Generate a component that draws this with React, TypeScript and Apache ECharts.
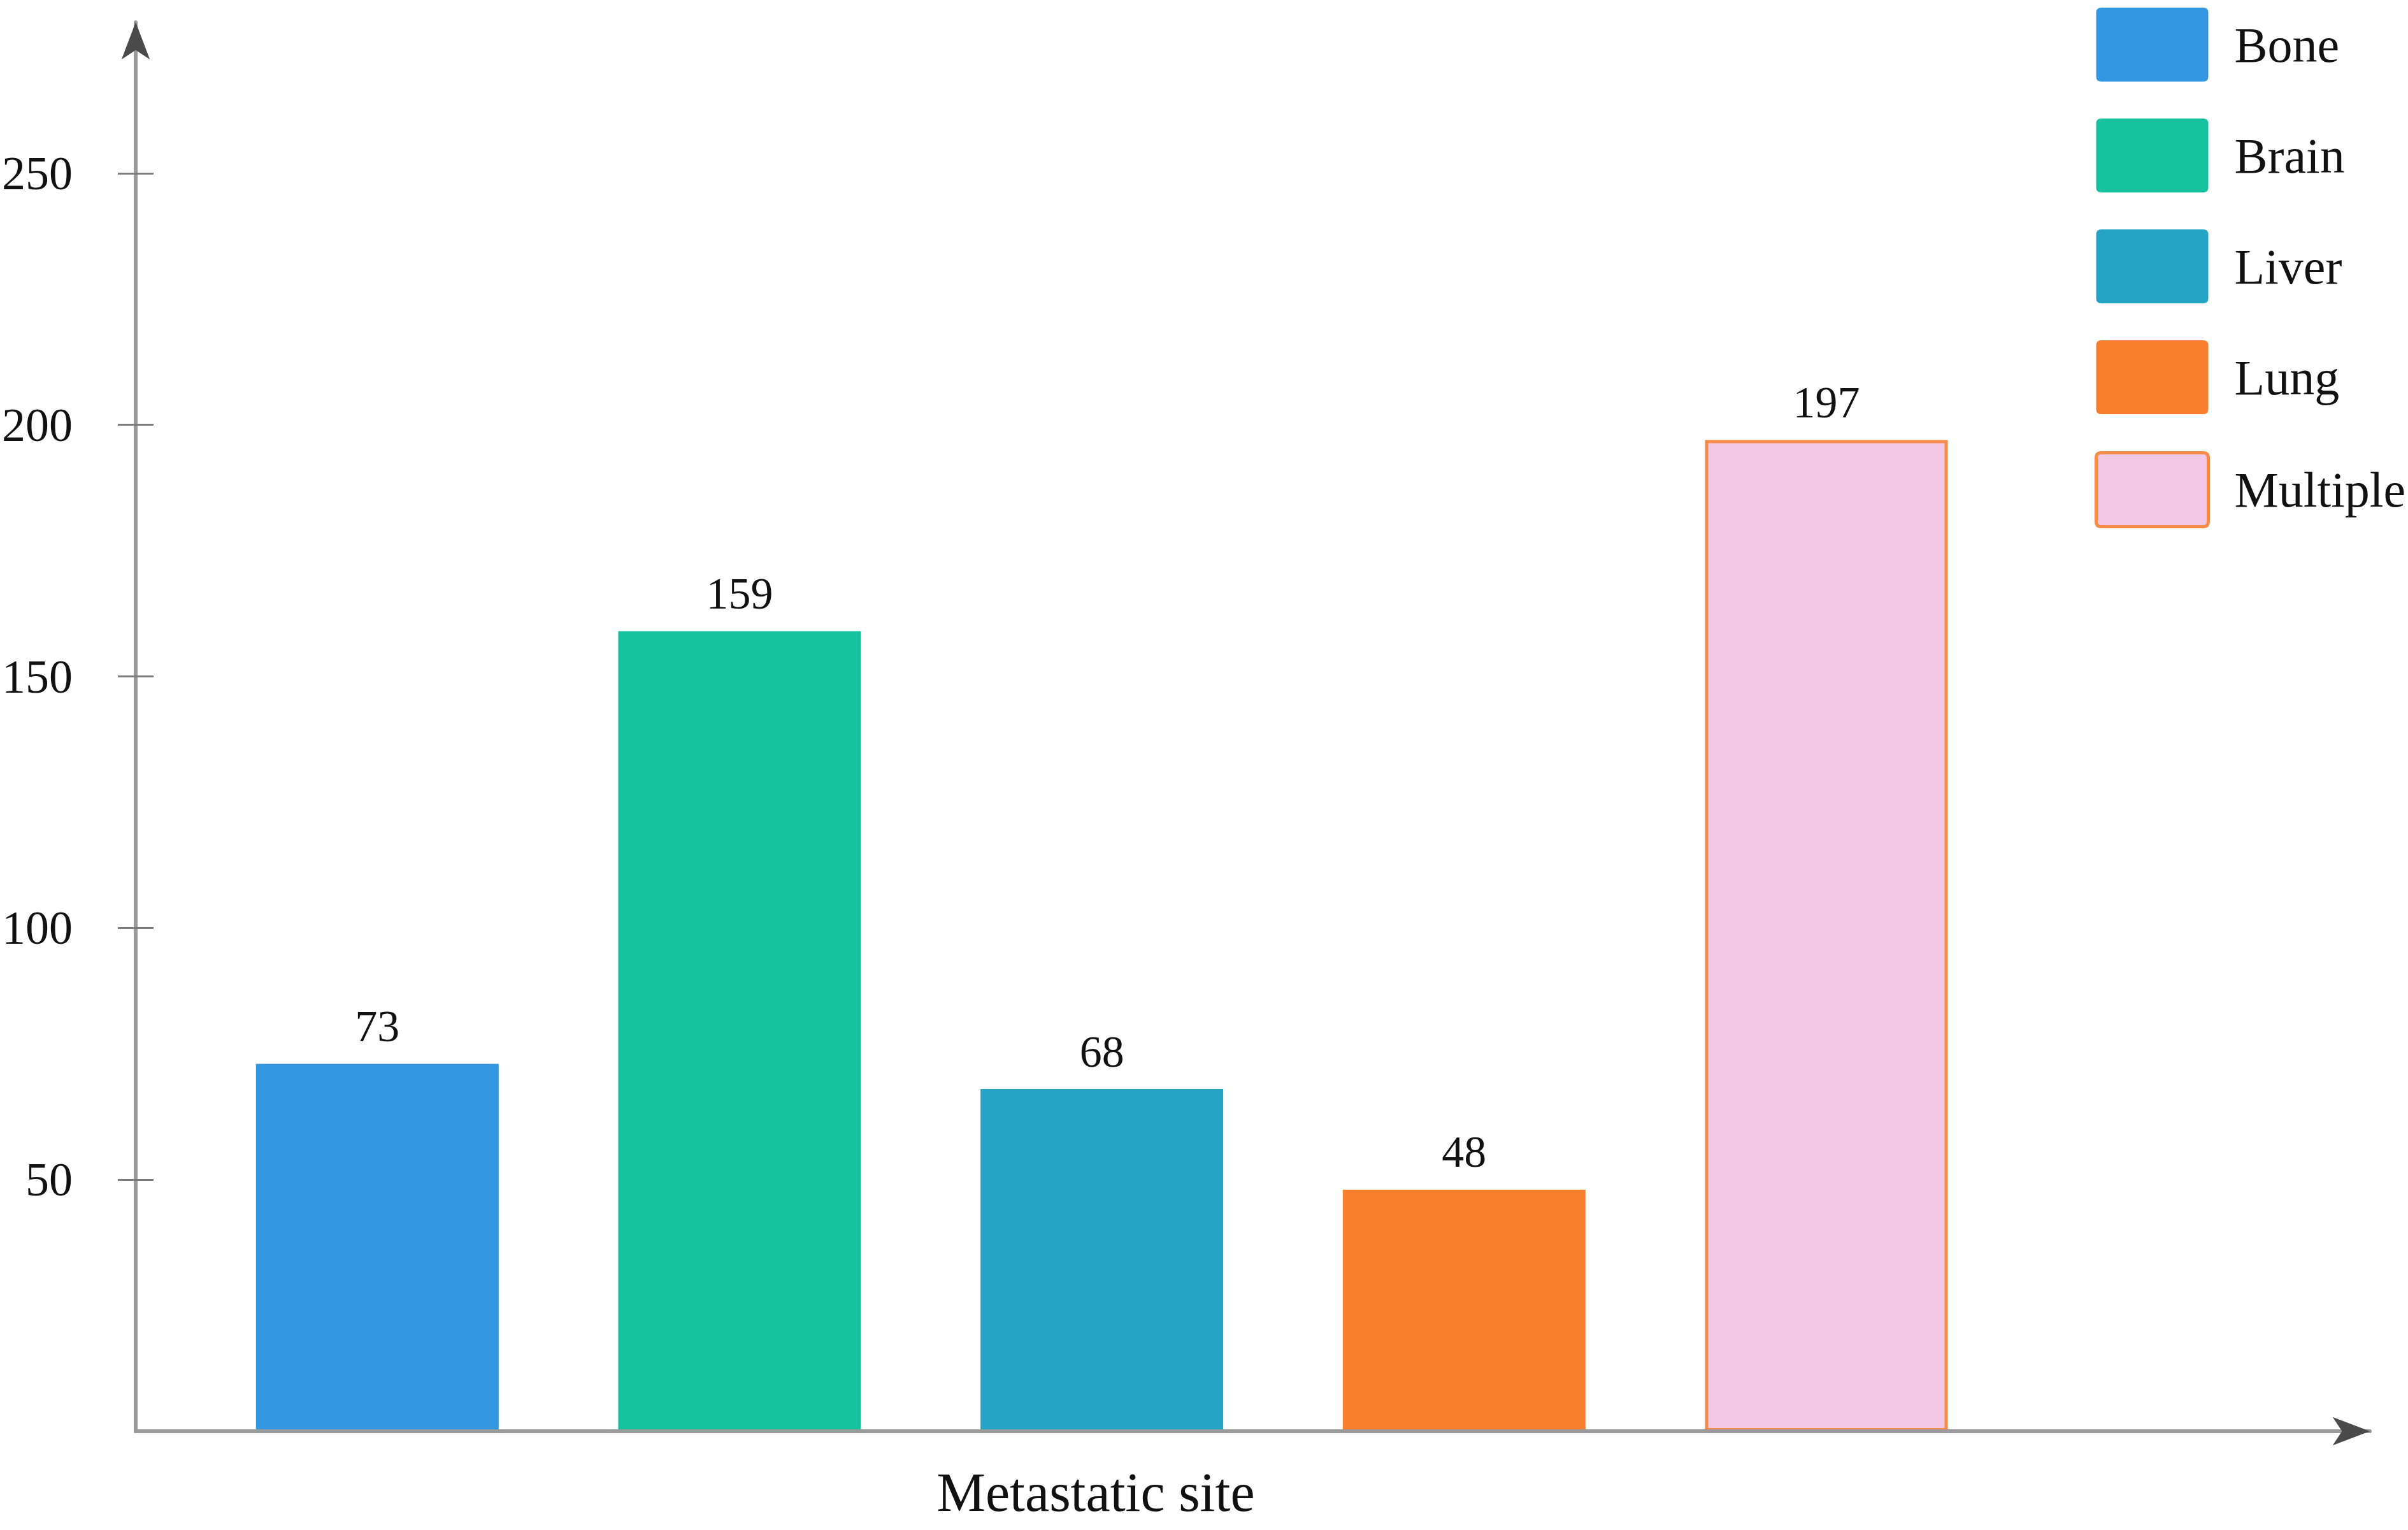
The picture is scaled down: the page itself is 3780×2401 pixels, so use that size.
import React, { useEffect, useRef } from "react";
import * as echarts from "echarts";

const categories = ["Bone", "Brain", "Liver", "Lung", "Multiple"];
const counts = [73, 159, 68, 48, 197];
const yTickValues = [50, 100, 150, 200, 250];
const xTitle = "Metastatic site";

const fills = ["#3297e0", "#14c29d", "#25a3c4", "#f77f2e", "#f2c7e3"];
const borders = ["#3297e0", "#14c29d", "#25a3c4", "#f77f2e", "#f78c48"];

const FONT = "'Liberation Serif', 'Times New Roman', serif";
const ICON =
  "path://M8,0 H168 Q176,0 176,8 V108 Q176,116 168,116 H8 Q0,116 0,108 V8 Q0,0 8,0 Z";

export default function App() {
  const ref = useRef<HTMLDivElement>(null);
  useEffect(() => {
    if (!ref.current) return;
    const chart = echarts.init(ref.current, null, { renderer: "svg" });
    const series = categories.map((name, i) => ({
      name,
      type: "bar",
      xAxisIndex: 0,
      yAxisIndex: 0,
      barWidth: 381,
      barGap: "-100%",
      data: [[i + 1, counts[i]]],
      itemStyle: {
        color: fills[i],
        borderColor: borders[i],
        borderWidth: i === 4 ? 5 : 0,
      },
      label: {
        show: true,
        position: "top",
        distance: 24,
        fontSize: 70,
        fontFamily: FONT,
        color: "#111",
        formatter: (p: any) => String(p.value[1]),
      },
    }));
    const yBase = {
      type: "value",
      min: 0,
      max: 280,
      position: "left",
      splitLine: { show: false },
    };
    const xBase = {
      type: "value",
      min: 0.333,
      max: 6.5,
      position: "bottom",
      splitLine: { show: false },
      axisTick: { show: false },
      axisLabel: { show: false },
    };
    chart.setOption({
      animation: false,
      grid: { left: 212, right: 60, top: 35, bottom: 155 },
      legend: {
        orient: "vertical",
        left: 3283,
        top: 7,
        itemWidth: 176,
        itemHeight: 116,
        itemGap: 58,
        icon: ICON,
        data: categories.map((name, i) => ({
          name,
          itemStyle:
            i === 4
              ? { borderWidth: 5, borderColor: borders[i] }
              : { borderWidth: 0 },
        })),
        textStyle: {
          fontSize: 78,
          fontFamily: FONT,
          color: "#111",
          padding: [0, 0, 0, 36],
        },
      },
      xAxis: [
        {
          ...xBase,
          z: 5,
          axisLine: {
            show: true,
            symbol: ["none", "arrow"],
            symbolSize: [33, 58],
            lineStyle: { color: "#9a9a9a", width: 6 },
          },
        },
        {
          ...xBase,
          z: 6,
          axisLine: {
            show: true,
            symbol: ["none", "arrow"],
            symbolSize: [33, 58],
            lineStyle: { color: "#4a4a4a", width: 0 },
          },
        },
      ],
      yAxis: [
        {
          ...yBase,
          z: 5,
          axisLine: {
            show: true,
            symbol: ["none", "arrow"],
            symbolSize: [33, 58],
            lineStyle: { color: "#9a9a9a", width: 6 },
          },
          axisTick: {
            show: true,
            inside: false,
            length: 28,
            customValues: yTickValues,
            lineStyle: { color: "#7a7a7a", width: 3 },
          },
          axisLabel: {
            show: true,
            customValues: yTickValues,
            margin: 99,
            fontSize: 74,
            fontFamily: FONT,
            color: "#111",
          },
        },
        {
          ...yBase,
          z: 6,
          axisLine: {
            show: true,
            symbol: ["none", "arrow"],
            symbolSize: [33, 58],
            lineStyle: { color: "#4a4a4a", width: 0 },
          },
          axisTick: {
            show: true,
            inside: true,
            length: 28,
            customValues: yTickValues,
            lineStyle: { color: "#7a7a7a", width: 3 },
          },
          axisLabel: { show: false },
        },
      ],
      graphic: [
        {
          type: "text",
          x: 1720,
          y: 2342,
          style: {
            text: xTitle,
            font: `86px ${FONT}`,
            fill: "#111",
            textAlign: "center",
            textVerticalAlign: "middle",
          },
        },
      ],
      series,
    });
    return () => chart.dispose();
  }, []);
  return (
    <div
      ref={ref}
      style={{ position: "fixed", left: 0, top: 0, width: 3780, height: 2401, background: "#fff" }}
    />
  );
}
